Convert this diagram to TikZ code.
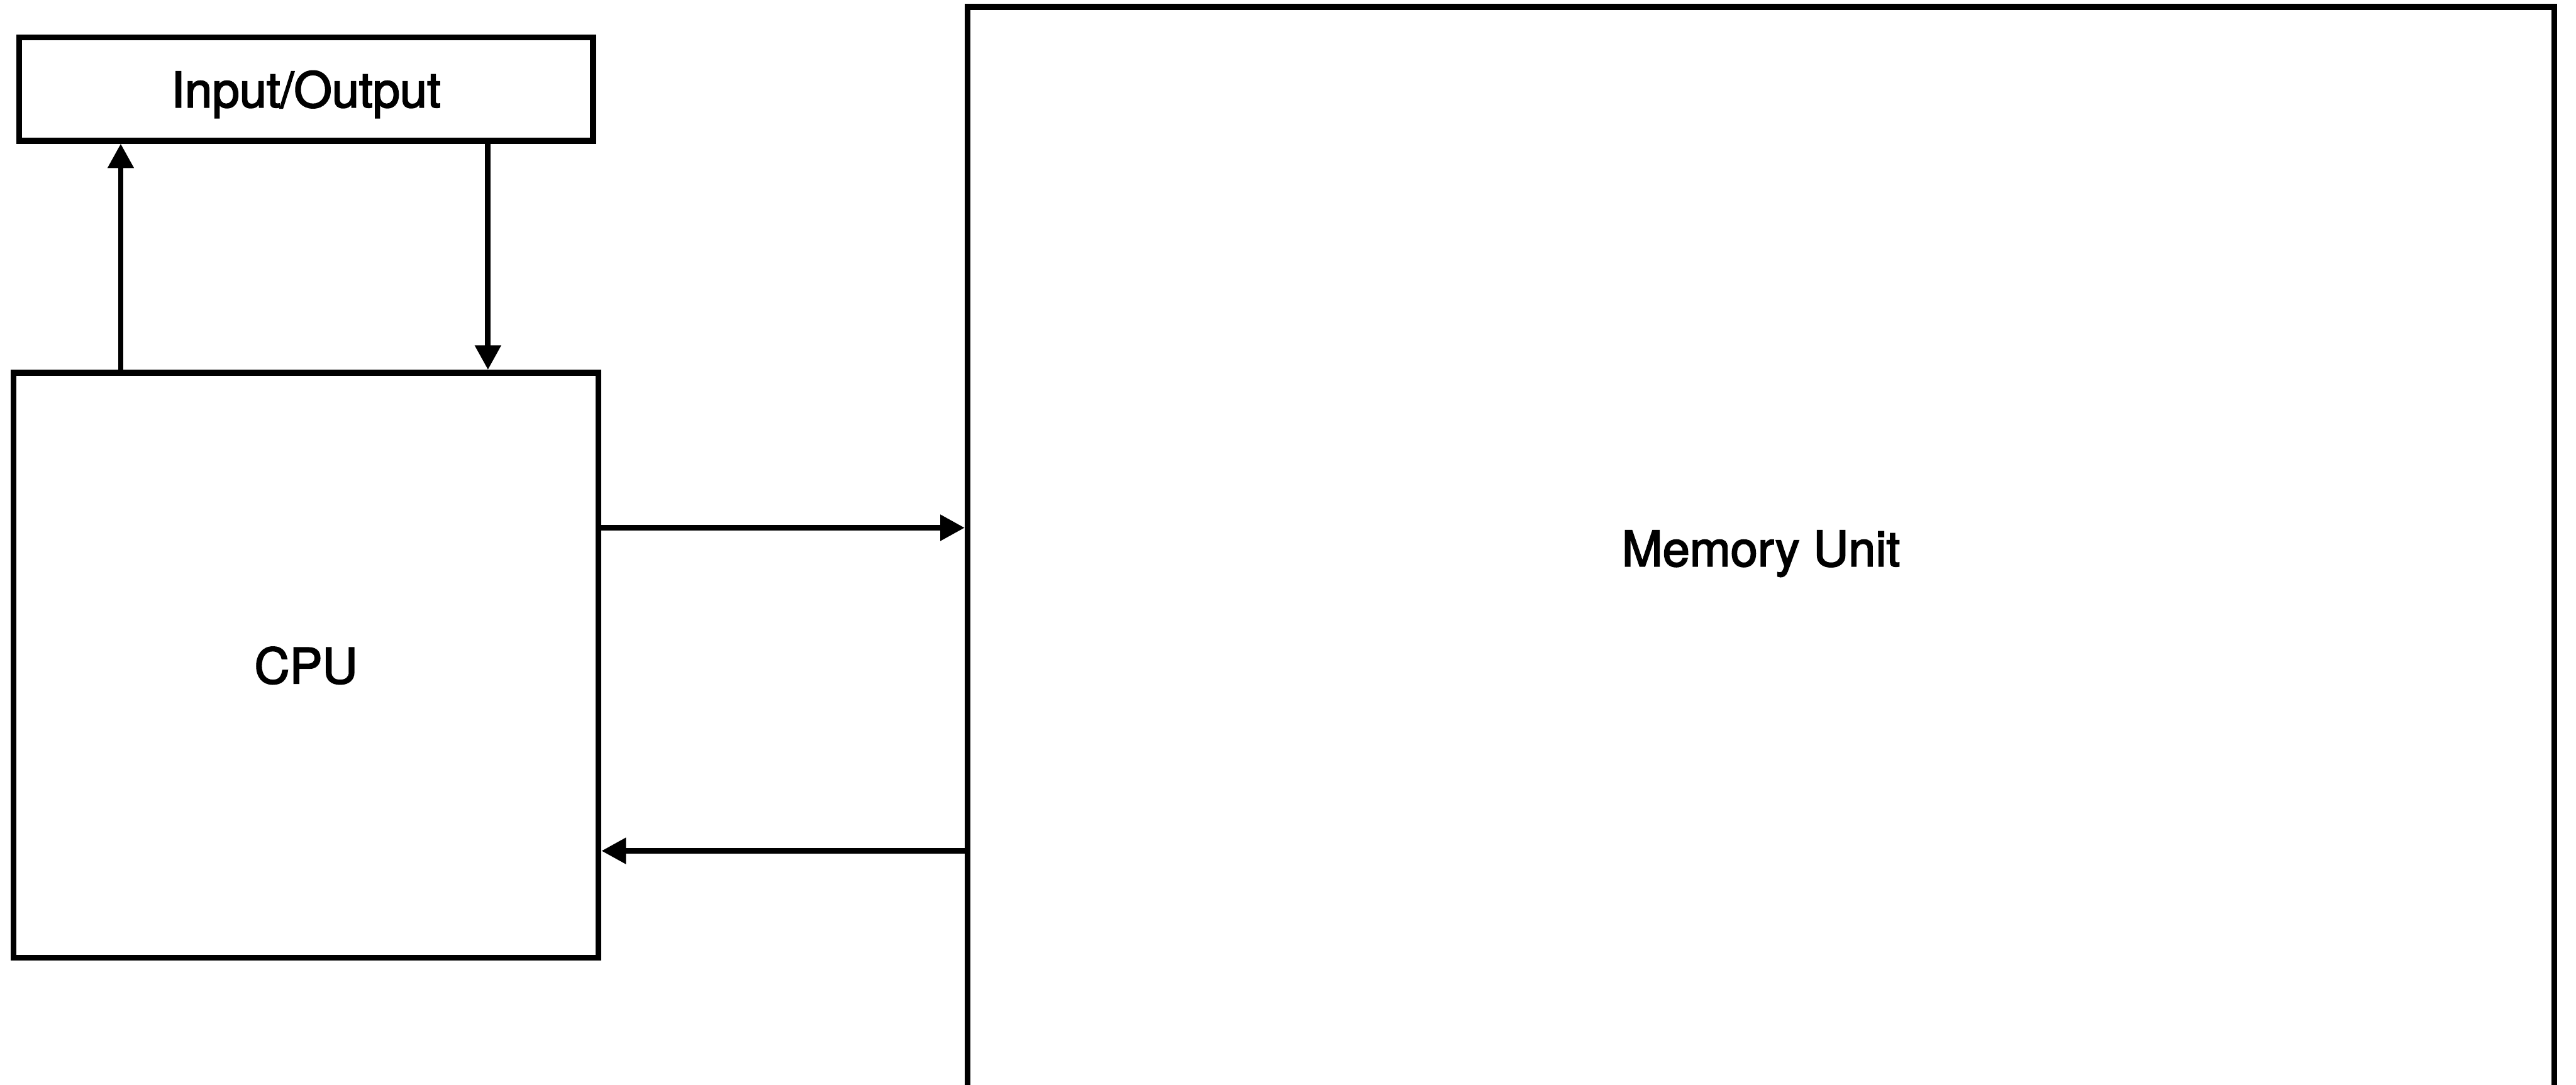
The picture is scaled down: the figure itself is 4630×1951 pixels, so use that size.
\documentclass[tikz,border=0pt]{standalone}
\usepackage{fontspec}
\setmainfont{TeX Gyre Heros}[FakeBold=2.5]
\usetikzlibrary{arrows.meta}
\begin{document}
\begin{tikzpicture}[x=0.01cm,y=-0.01cm,
  box/.style={draw=black, line width=0.105cm, fill=none, inner sep=0pt,
    text depth=0pt, font=\fontsize{25}{30}\selectfont},
  link/.style={draw=black, line width=0.1cm,
    -{Triangle[length=0.44cm,width=0.45cm]}}]
\useasboundingbox (0,0) rectangle (4630,1951);
\clip (0,0) rectangle (4630,1951);
\fill[white] (0,0) rectangle (4630,1951);
\node[box, minimum width=10.31cm, minimum height=1.86cm] (io) at (550,160) {Input/Output};
\node[box, minimum width=10.51cm, minimum height=10.51cm] (cpu) at (550,1196) {CPU};
\node[box, minimum width=28.50cm, minimum height=19.46cm] (mem) at (3165,986) {Memory Unit};
\draw[link] (cpu.north -| 217,0) -- (io.south -| 217,0);
\draw[link] (io.south -| 877,0) -- (cpu.north -| 877,0);
\draw[link] (cpu.east |- 0,949) -- (mem.west |- 0,949);
\draw[link] (mem.west |- 0,1530) -- (cpu.east |- 0,1530);
\end{tikzpicture}
\end{document}
